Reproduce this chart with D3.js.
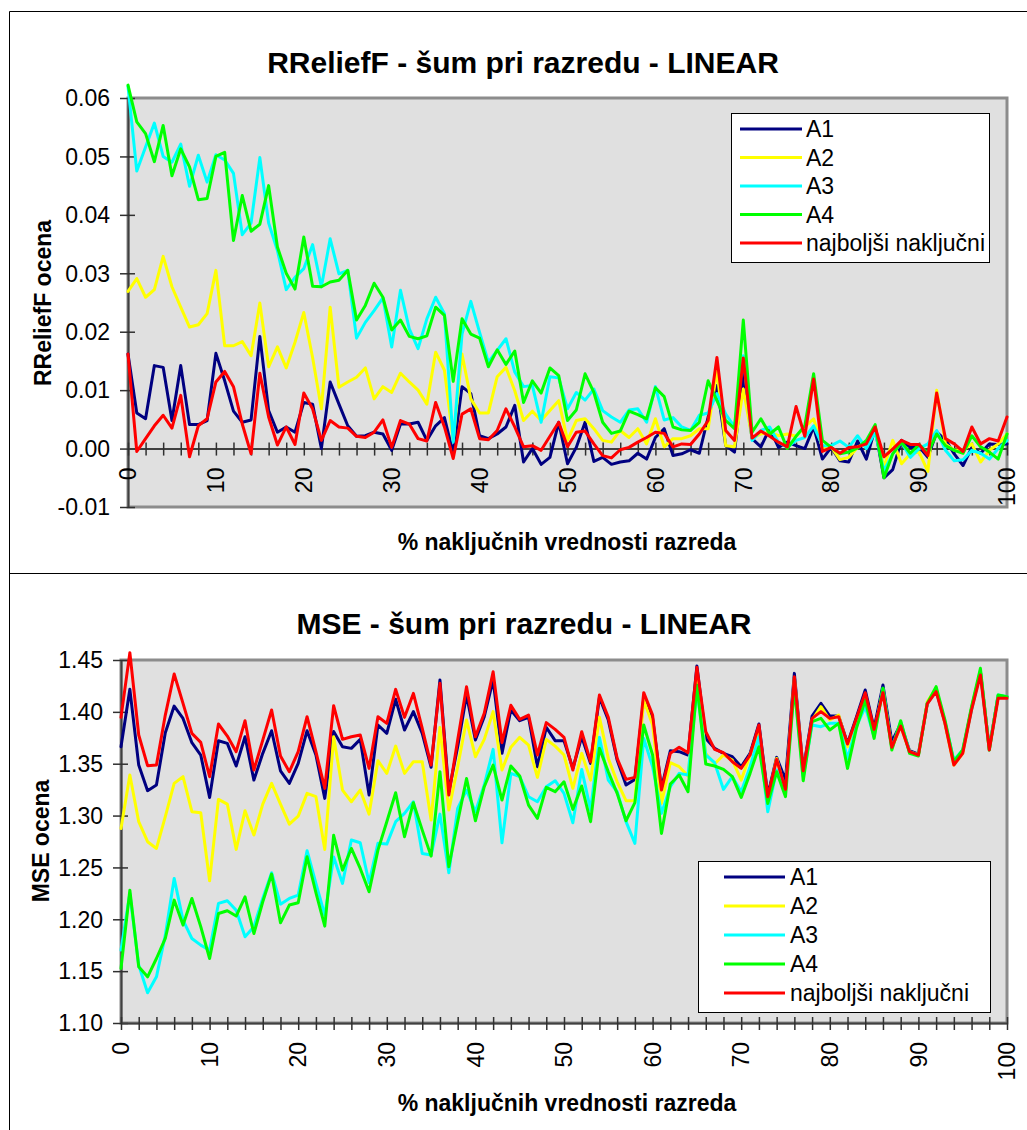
<!DOCTYPE html>
<html><head><meta charset="utf-8">
<script src="https://cdn.jsdelivr.net/npm/d3@7"></script>
<style>body{margin:0;background:#fff} svg{display:block} text{font-family:"Liberation Sans",Arial,Helvetica,sans-serif;fill:#000}</style>
</head><body><svg id="c" width="1027" height="1130"></svg>
<script>
const categories = [0,1,2,3,4,5,6,7,8,9,10,11,12,13,14,15,16,17,18,19,20,21,22,23,24,25,26,27,28,29,30,31,32,33,34,35,36,37,38,39,40,41,42,43,44,45,46,47,48,49,50,51,52,53,54,55,56,57,58,59,60,61,62,63,64,65,66,67,68,69,70,71,72,73,74,75,76,77,78,79,80,81,82,83,84,85,86,87,88,89,90,91,92,93,94,95,96,97,98,99,100];
const seriesNames = ["A1","A2","A3","A4","najboljši naključni"];

// RReliefF panel
const reliefA1 = [0.0162,0.0061,0.0051,0.0142,0.0139,0.0048,0.0142,0.0041,0.0041,0.0048,0.0163,0.0116,0.0064,0.0045,0.0049,0.0192,0.0065,0.0028,0.0037,0.0028,0.0079,0.0076,0.0000,0.0114,0.0076,0.0039,0.0021,0.0022,0.0028,0.0025,-0.0003,0.0042,0.0042,0.0045,0.0014,0.0039,0.0053,-0.0008,0.0106,0.0094,0.0022,0.0017,0.0025,0.0037,0.0074,-0.0023,0.0000,-0.0027,-0.0015,0.0045,-0.0026,0.0002,0.0045,-0.0022,-0.0015,-0.0027,-0.0023,-0.0021,-0.0008,-0.0018,0.0019,0.0034,-0.0012,-0.0009,-0.0002,-0.0008,0.0054,0.0108,0.0005,-0.0006,0.0128,0.0017,0.0003,0.0034,0.0002,0.0011,0.0005,0.0000,0.0037,-0.0018,0.0002,-0.0021,-0.0023,0.0013,-0.0018,0.0034,-0.0050,-0.0036,0.0014,0.0002,0.0003,-0.0015,0.0028,0.0015,-0.0009,-0.0029,0.0002,-0.0008,0.0008,0.0007,0.0008];
const reliefA2 = [0.0269,0.0291,0.0259,0.0272,0.0329,0.0277,0.0242,0.0208,0.0212,0.0231,0.0305,0.0176,0.0176,0.0183,0.0159,0.0249,0.0140,0.0174,0.0138,0.0182,0.0233,0.0156,0.0068,0.0242,0.0105,0.0114,0.0122,0.0138,0.0085,0.0106,0.0096,0.0129,0.0114,0.0100,0.0076,0.0165,0.0134,0.0014,0.0162,0.0085,0.0061,0.0061,0.0123,0.0139,0.0099,0.0048,0.0064,0.0048,0.0065,0.0082,0.0014,0.0048,0.0051,0.0034,0.0014,0.0011,0.0031,0.0019,0.0034,0.0008,0.0051,0.0003,0.0017,0.0017,0.0022,0.0034,0.0034,0.0134,0.0005,0.0003,0.0102,0.0018,0.0025,0.0028,0.0022,0.0025,0.0021,0.0037,0.0051,0.0002,0.0003,-0.0019,-0.0015,0.0002,0.0011,0.0037,-0.0032,0.0014,-0.0026,-0.0009,-0.0006,-0.0039,0.0100,0.0008,-0.0003,-0.0002,0.0008,-0.0023,-0.0003,0.0008,0.0025];
const reliefA3 = [0.0620,0.0475,0.0516,0.0557,0.0500,0.0490,0.0521,0.0449,0.0502,0.0456,0.0503,0.0494,0.0471,0.0366,0.0386,0.0498,0.0386,0.0339,0.0272,0.0293,0.0308,0.0349,0.0277,0.0359,0.0299,0.0305,0.0189,0.0216,0.0236,0.0258,0.0174,0.0271,0.0205,0.0171,0.0222,0.0259,0.0231,0.0011,0.0196,0.0252,0.0199,0.0148,0.0168,0.0188,0.0131,0.0106,0.0108,0.0045,0.0123,0.0121,0.0068,0.0096,0.0083,0.0102,0.0065,0.0054,0.0045,0.0066,0.0068,0.0045,0.0106,0.0049,0.0053,0.0037,0.0031,0.0057,0.0061,0.0094,0.0059,0.0037,0.0159,0.0014,0.0031,0.0037,0.0011,0.0002,0.0014,0.0019,0.0039,0.0005,0.0005,0.0013,0.0002,0.0022,0.0000,0.0028,-0.0038,-0.0009,0.0011,-0.0015,0.0000,0.0008,0.0031,-0.0003,-0.0021,-0.0019,-0.0003,-0.0008,-0.0018,0.0000,0.0014];
const reliefA4 = [0.0622,0.0559,0.0539,0.0491,0.0553,0.0467,0.0513,0.0482,0.0426,0.0428,0.0500,0.0507,0.0356,0.0433,0.0372,0.0384,0.0450,0.0345,0.0300,0.0273,0.0362,0.0278,0.0277,0.0285,0.0288,0.0305,0.0220,0.0245,0.0283,0.0259,0.0203,0.0220,0.0192,0.0188,0.0193,0.0242,0.0228,0.0115,0.0222,0.0196,0.0189,0.0140,0.0169,0.0144,0.0167,0.0079,0.0116,0.0095,0.0138,0.0125,0.0048,0.0066,0.0128,0.0096,0.0045,0.0026,0.0030,0.0064,0.0058,0.0051,0.0104,0.0089,0.0037,0.0032,0.0031,0.0045,0.0116,0.0082,0.0048,0.0034,0.0220,0.0028,0.0051,0.0025,0.0037,0.0000,0.0021,0.0039,0.0128,0.0014,0.0002,-0.0009,-0.0006,0.0001,0.0014,0.0041,-0.0050,-0.0009,0.0011,-0.0008,0.0007,-0.0008,0.0025,0.0005,-0.0003,-0.0008,0.0022,0.0003,-0.0006,-0.0018,0.0025];
const reliefBest = [0.0162,-0.0005,0.0017,0.0039,0.0057,0.0035,0.0091,-0.0014,0.0039,0.0051,0.0114,0.0132,0.0106,0.0042,-0.0009,0.0129,0.0054,0.0006,0.0037,0.0007,0.0095,0.0068,0.0014,0.0048,0.0037,0.0035,0.0021,0.0019,0.0028,0.0049,0.0002,0.0048,0.0042,0.0017,0.0013,0.0079,0.0037,-0.0017,0.0059,0.0068,0.0017,0.0015,0.0031,0.0068,0.0037,0.0003,0.0005,-0.0003,0.0021,0.0045,0.0003,0.0028,0.0030,0.0008,-0.0012,-0.0016,-0.0002,0.0002,0.0011,0.0019,0.0028,0.0026,0.0003,0.0008,0.0007,0.0025,0.0048,0.0156,0.0031,0.0014,0.0155,0.0018,0.0030,0.0021,0.0011,0.0003,0.0072,0.0021,0.0119,-0.0005,0.0002,-0.0008,0.0002,0.0003,0.0008,0.0037,-0.0014,-0.0001,0.0014,0.0007,0.0007,-0.0012,0.0095,0.0017,0.0008,-0.0005,0.0037,0.0008,0.0017,0.0013,0.0054];

// MSE panel
const mseA1 = [1.3664,1.4217,1.3487,1.3240,1.3294,1.3799,1.4056,1.3937,1.3703,1.3584,1.3175,1.3722,1.3696,1.3478,1.3760,1.3342,1.3600,1.3818,1.3432,1.3310,1.3503,1.3818,1.3584,1.3166,1.3810,1.3664,1.3648,1.3735,1.3198,1.3873,1.3793,1.4121,1.3825,1.4002,1.3793,1.3465,1.4307,1.3230,1.3664,1.4162,1.3728,1.3953,1.4307,1.3600,1.4018,1.3915,1.3947,1.3471,1.3850,1.3722,1.3722,1.3455,1.3760,1.3503,1.4140,1.3921,1.3535,1.3294,1.3349,1.4130,1.3937,1.3264,1.3625,1.3616,1.3584,1.4442,1.3744,1.3648,1.3600,1.3567,1.3471,1.3600,1.3883,1.3198,1.3561,1.3342,1.4371,1.3439,1.3960,1.4082,1.3960,1.3960,1.3696,1.3947,1.4211,1.3841,1.4259,1.3712,1.3883,1.3625,1.3593,1.4082,1.4211,1.3896,1.3510,1.3616,1.4034,1.4387,1.3648,1.4153,1.4146];
const mseA2 = [1.2876,1.3391,1.2941,1.2748,1.2683,1.2989,1.3310,1.3375,1.3037,1.3027,1.2371,1.3156,1.3111,1.2674,1.3047,1.2812,1.3111,1.3310,1.3111,1.2918,1.2995,1.3214,1.3182,1.2674,1.3760,1.3246,1.3133,1.3246,1.3014,1.3529,1.3407,1.3670,1.3407,1.3519,1.3519,1.2957,1.3850,1.3053,1.3471,1.3921,1.3567,1.3735,1.4002,1.3439,1.3658,1.3754,1.3680,1.3368,1.3735,1.3670,1.3584,1.3262,1.3600,1.3342,1.3947,1.3551,1.3326,1.3143,1.3143,1.4114,1.3873,1.3117,1.3510,1.3471,1.3381,1.4307,1.3600,1.3497,1.3584,1.3535,1.3342,1.3584,1.3831,1.3150,1.3551,1.3230,1.4323,1.3407,1.3921,1.4050,1.3921,1.3969,1.3664,1.3921,1.4162,1.3793,1.4211,1.3648,1.3863,1.3616,1.3584,1.4098,1.4227,1.3889,1.3487,1.3600,1.4034,1.4387,1.3632,1.4153,1.4140];
const mseA3 = [1.1703,1.2249,1.1558,1.1291,1.1445,1.1847,1.2394,1.1992,1.1815,1.1751,1.1703,1.2153,1.2179,1.2088,1.1831,1.1929,1.2201,1.2449,1.2146,1.2201,1.2233,1.2661,1.2346,1.2040,1.2600,1.2346,1.2764,1.2738,1.2352,1.2732,1.2725,1.2941,1.3021,1.3133,1.2635,1.2619,1.3014,1.2449,1.3069,1.3246,1.3037,1.3294,1.3638,1.2738,1.3407,1.3375,1.3182,1.3133,1.3278,1.3336,1.3214,1.2931,1.3445,1.3053,1.3754,1.3342,1.3230,1.2941,1.2732,1.3744,1.3471,1.3021,1.3278,1.3407,1.3391,1.4211,1.3584,1.3510,1.3252,1.3375,1.3230,1.3471,1.3760,1.3037,1.3439,1.3246,1.4259,1.3375,1.3873,1.3857,1.3889,1.3889,1.3550,1.3857,1.4050,1.3760,1.4227,1.3648,1.3905,1.3616,1.3584,1.4082,1.4211,1.3905,1.3535,1.3632,1.4018,1.4387,1.3632,1.4162,1.4146];
const mseA4 = [1.1526,1.2281,1.1542,1.1445,1.1622,1.1815,1.2185,1.1944,1.2201,1.1929,1.1622,1.2056,1.2082,1.2031,1.2217,1.1863,1.2169,1.2436,1.1966,1.2137,1.2159,1.2603,1.2256,1.1934,1.2810,1.2474,1.2683,1.2490,1.2265,1.2667,1.2941,1.3220,1.2796,1.3124,1.2860,1.2609,1.3423,1.2506,1.2941,1.3358,1.2950,1.3278,1.3487,1.3150,1.3478,1.3381,1.3101,1.2973,1.3272,1.3230,1.3326,1.3060,1.3285,1.2941,1.3648,1.3423,1.3214,1.2950,1.3124,1.3873,1.3584,1.2828,1.3304,1.3391,1.3230,1.4259,1.3497,1.3478,1.3445,1.3375,1.3175,1.3407,1.3664,1.3117,1.3423,1.3182,1.4243,1.3336,1.3905,1.3937,1.3825,1.3889,1.3455,1.3841,1.4114,1.3744,1.4227,1.3632,1.3915,1.3600,1.3574,1.4082,1.4243,1.3921,1.3519,1.3632,1.4050,1.4420,1.3632,1.4162,1.4146];
const mseBest = [1.3947,1.4571,1.3777,1.3481,1.3487,1.3969,1.4365,1.4082,1.3793,1.3706,1.3375,1.3883,1.3767,1.3616,1.3915,1.3439,1.3728,1.4018,1.3574,1.3423,1.3616,1.3953,1.3616,1.3262,1.4060,1.3735,1.3760,1.3777,1.3455,1.3953,1.3889,1.4217,1.3947,1.4178,1.3841,1.3487,1.4275,1.3198,1.3728,1.4243,1.3760,1.3986,1.4387,1.3703,1.4063,1.3928,1.3969,1.3584,1.3896,1.3831,1.3754,1.3439,1.3809,1.3519,1.4162,1.3947,1.3551,1.3349,1.3368,1.4185,1.3969,1.3246,1.3600,1.3658,1.3606,1.4429,1.3809,1.3638,1.3606,1.3519,1.3455,1.3584,1.3873,1.3182,1.3542,1.3252,1.4339,1.3432,1.3937,1.4002,1.3937,1.3953,1.3690,1.3937,1.4185,1.3831,1.4185,1.3658,1.3863,1.3616,1.3584,1.4076,1.4195,1.3889,1.3487,1.3600,1.4018,1.4355,1.3632,1.4130,1.4130];

const xTickValues = [0,10,20,30,40,50,60,70,80,90,100];
const xTickLabels = ["0","10","20","30","40","50","60","70","80","90","100"];
const reliefYTicks = [-0.01,0,0.01,0.02,0.03,0.04,0.05,0.06];
const reliefYTickLabels = ["-0.01","0.00","0.01","0.02","0.03","0.04","0.05","0.06"];
const mseYTicks = [1.10,1.15,1.20,1.25,1.30,1.35,1.40,1.45];
const mseYTickLabels = ["1.10","1.15","1.20","1.25","1.30","1.35","1.40","1.45"];

const reliefTitle = "RReliefF - šum pri razredu - LINEAR";
const mseTitle = "MSE - šum pri razredu - LINEAR";
const xTitle = "% naključnih vrednosti razreda";
const reliefYTitle = "RReliefF ocena";
const mseYTitle = "MSE ocena";

// styles (kept apart from data)
const seriesColors = ["#000080","#ffff00","#00ffff","#00ff00","#ff0000"];

const svg = d3.select("#c");

// outer frame + separator
svg.append("line").attr("x1",9.5).attr("x2",1027).attr("y1",11.5).attr("y2",11.5).attr("stroke","#000");
svg.append("line").attr("x1",9.5).attr("x2",9.5).attr("y1",11.5).attr("y2",1130).attr("stroke","#000");
svg.append("line").attr("x1",9.5).attr("x2",1027).attr("y1",573.5).attr("y2",573.5).attr("stroke","#000");

function panel(o){
  const g = svg.append("g");
  const x = d3.scaleLinear().domain([0,100]).range([o.left,o.right]);
  const y = d3.scaleLinear().domain(o.yDomain).range([o.bottom,o.top]);

  g.append("rect").attr("x",o.left).attr("y",o.top)
    .attr("width",o.right-o.left).attr("height",o.bottom-o.top)
    .attr("fill","#e0e0e0").attr("stroke","#8c8c8c").attr("stroke-width",3);

  // y axis
  const ya = g.append("g").attr("transform",`translate(${o.left},0)`)
    .call(d3.axisLeft(y).tickValues(o.yTicks).tickSize(8).tickSizeOuter(0).tickFormat(""));
  ya.select(".domain").attr("stroke","#404040").attr("stroke-width",2);
  ya.selectAll(".tick line").attr("x1",7).attr("x2",-8).attr("stroke","#303030").attr("stroke-width",1.5);
  g.append("g").selectAll("text").data(o.yTicks).join("text")
    .attr("x",o.left-18).attr("y",d=>y(d)).attr("dy","0.36em")
    .attr("text-anchor","end").attr("font-size",23)
    .text((d,i)=>o.yTickLabels[i]);

  // x axis
  const axisY = y(o.xAxisAt);
  const xa = g.append("g").attr("transform",`translate(0,${axisY})`)
    .call(d3.axisBottom(x).tickValues(d3.range(0,101,2)).tickSize(7).tickSizeOuter(0).tickFormat(""));
  xa.select(".domain").attr("stroke","#404040").attr("stroke-width",2);
  xa.selectAll(".tick line").attr("y1",-6).attr("y2",7).attr("stroke","#303030").attr("stroke-width",1.5);
  g.append("g").selectAll("text").data(xTickValues).join("text")
    .attr("transform",d=>`translate(${x(d)},${axisY+19}) rotate(-90)`)
    .attr("dy","0.36em").attr("text-anchor","end").attr("font-size",23)
    .text((d,i)=>xTickLabels[i]);

  // series
  const line = d3.line().x((d,i)=>x(categories[i])).y(d=>y(d));
  o.series.forEach((s,k)=>{
    g.append("path").attr("d",line(s)).attr("fill","none")
      .attr("stroke",seriesColors[k]).attr("stroke-width",3)
      .attr("stroke-linejoin","round").attr("stroke-linecap","round");
  });

  // titles
  g.append("text").attr("x",o.titleX).attr("y",o.titleY).attr("text-anchor","middle")
    .attr("font-size",30).attr("font-weight","bold").text(o.title);
  g.append("text").attr("x",567).attr("y",o.xTitleY).attr("text-anchor","middle")
    .attr("font-size",23).attr("font-weight","bold").text(xTitle);
  g.append("text").attr("transform",`translate(${o.yTitleX},${o.yTitleY}) rotate(-90)`)
    .attr("text-anchor","middle").attr("font-size",23).attr("font-weight","bold").text(o.yTitle);

  // legend
  const L = o.legend;
  const lg = g.append("g");
  lg.append("rect").attr("x",L.x+0.5).attr("y",L.y+0.5).attr("width",L.w).attr("height",L.h)
    .attr("fill","#fff").attr("stroke","#000").attr("stroke-width",1);
  seriesNames.forEach((n,k)=>{
    const yy = L.y + L.first + k*L.step;
    lg.append("line").attr("x1",L.lx1).attr("x2",L.lx2).attr("y1",yy).attr("y2",yy)
      .attr("stroke",seriesColors[k]).attr("stroke-width",3);
    lg.append("text").attr("x",L.tx).attr("y",yy).attr("dy","0.36em").attr("font-size",23).text(n);
  });
}

panel({
  left:128, right:1007, top:98, bottom:507,
  yDomain:[-0.01,0.06], yTicks:reliefYTicks, yTickLabels:reliefYTickLabels, xAxisAt:0,
  series:[reliefA1,reliefA2,reliefA3,reliefA4,reliefBest],
  title:reliefTitle, titleX:523, titleY:73, xTitleY:550,
  yTitle:reliefYTitle, yTitleX:51, yTitleY:303,
  legend:{x:731,y:113,w:258,h:149,first:16,step:28.5,lx1:740,lx2:802,tx:806}
});
panel({
  left:121, right:1007, top:660, bottom:1023,
  yDomain:[1.10,1.45], yTicks:mseYTicks, yTickLabels:mseYTickLabels, xAxisAt:1.10,
  series:[mseA1,mseA2,mseA3,mseA4,mseBest],
  title:mseTitle, titleX:524, titleY:634, xTitleY:1111,
  yTitle:mseYTitle, yTitleX:49, yTitleY:841,
  legend:{x:698,y:861,w:292,h:151,first:16,step:29,lx1:724,lx2:785,tx:790}
});
</script>
</body></html>
